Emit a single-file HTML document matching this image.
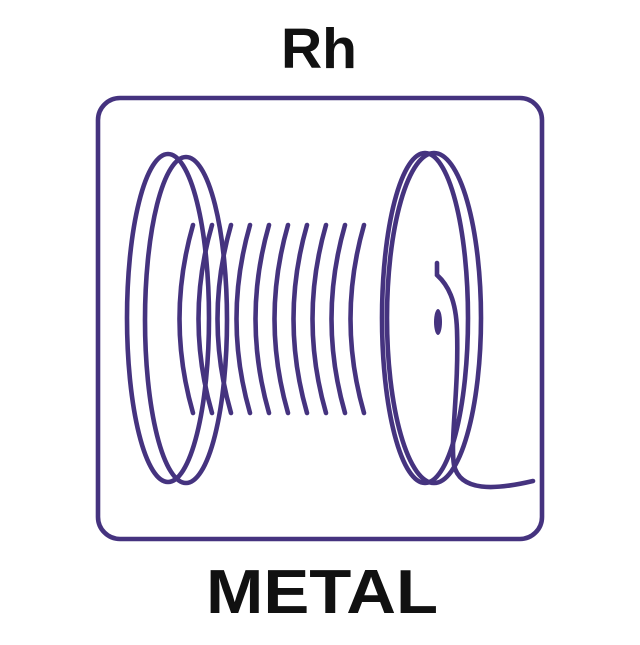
<!DOCTYPE html>
<html><head><style>html,body{margin:0;padding:0;background:#fff;}</style></head>
<body>
<svg width="640" height="640" viewBox="0 0 640 640" xmlns="http://www.w3.org/2000/svg">
<rect width="640" height="640" fill="#fff"/>
<text x="319" y="68" font-family="Liberation Sans, sans-serif" font-weight="bold" font-size="57" text-anchor="middle" fill="#111">Rh</text>
<text x="206" y="613" font-family="Liberation Sans, sans-serif" font-weight="bold" font-size="62" textLength="232" lengthAdjust="spacingAndGlyphs" fill="#111">METAL</text>
<g fill="none" stroke="#45337f" stroke-width="4.6" stroke-linecap="round">
<rect x="98" y="98" width="444" height="441" rx="22"/>
<ellipse cx="168" cy="318" rx="41" ry="164"/>
<ellipse cx="186" cy="320" rx="41" ry="163"/>
<path d="M193 225 Q166 319 193 413"/>
<path d="M212 225 Q185 319 212 413"/>
<path d="M231 225 Q204 319 231 413"/>
<path d="M250 225 Q223 319 250 413"/>
<path d="M269 225 Q242 319 269 413"/>
<path d="M288 225 Q261 319 288 413"/>
<path d="M307 225 Q280 319 307 413"/>
<path d="M326 225 Q299 319 326 413"/>
<path d="M345 225 Q318 319 345 413"/>
<path d="M364 225 Q337 319 364 413"/>
<ellipse cx="425" cy="318" rx="43" ry="165"/>
<ellipse cx="434" cy="318" rx="47" ry="165"/>
<path d="M437 263 L437 275 C448 285 456 300 457 330 C459 390 450 440 454 465 C460 492 495 490 533 481"/>
</g>
<ellipse cx="438" cy="322" rx="4" ry="13" fill="#45337f"/>
</svg>
</body></html>
